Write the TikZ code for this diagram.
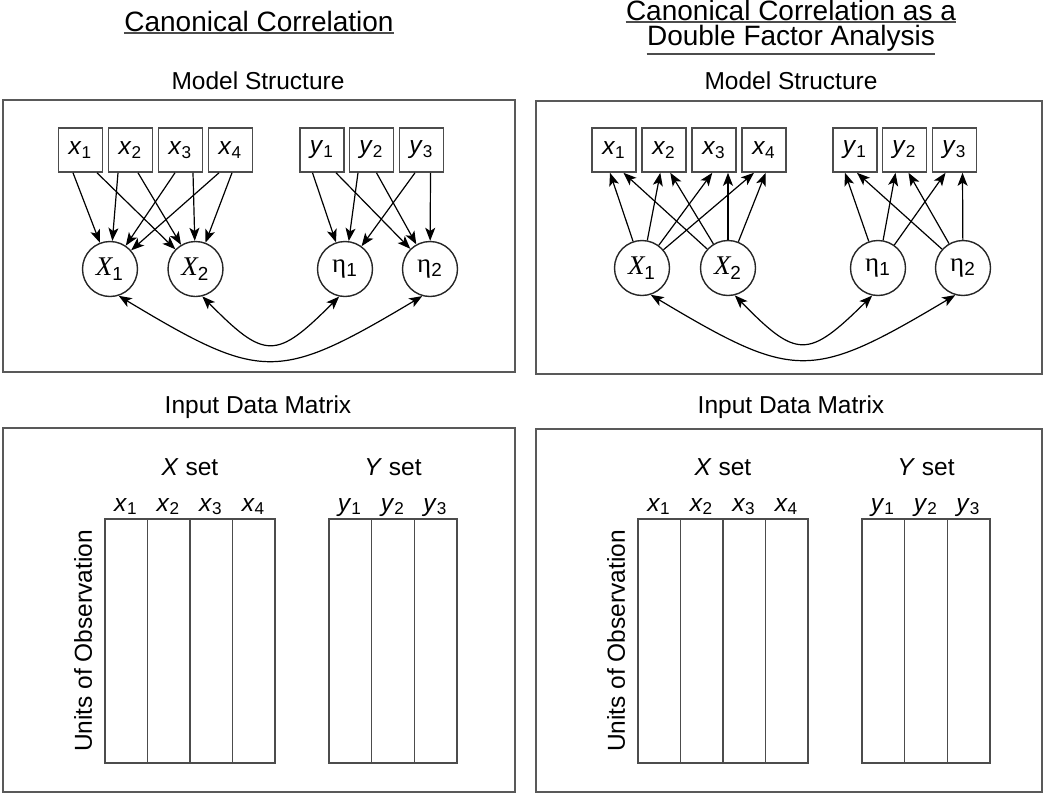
\documentclass[tikz,border=0pt]{standalone}
\usepackage{fontspec}
\setmainfont{Liberation Sans}
\newfontfamily\greekface{Liberation Serif}
\usetikzlibrary{arrows.meta,calc}

% labels of the variables
\newcommand{\obs}[2]{\textit{#1}\textsubscript{#2}}
\newcommand{\canvar}[2]{{\greekface\itshape #1}\textsubscript{#2}}
\newcommand{\cancrit}[1]{{\greekface η}\textsubscript{#1}}

\begin{document}
\begin{tikzpicture}[x=0.5pt, y=-0.5pt, font=\fontsize{12.25}{14.7}\selectfont,
	panel/.style={draw=black!65, line width=1pt},
	obsbox/.style={draw=black!70, line width=0.8pt, minimum size=22pt, inner sep=0pt},
	latent/.style={draw=black!85, line width=0.7pt, circle, minimum size=27.5pt, inner sep=0pt, font=\fontsize{13.5}{16}\selectfont},
	loading/.style={-{Stealth[length=6.5pt, width=5pt, inset=1.6pt]}, line width=0.6pt},
	corr/.style={{Stealth[length=6.5pt, width=5pt, inset=1.6pt]}-{Stealth[length=6.5pt, width=5pt, inset=1.6pt]}, line width=0.6pt},
	heading/.style={font=\fontsize{14}{16}\selectfont, anchor=base, inner sep=0pt},
	underl/.style={draw=black!70, line width=0.7pt},
	caption/.style={anchor=base},
	matcell/.style={draw=black!70, line width=0.8pt}]
	\useasboundingbox (0,0) rectangle (1045,793);

	% The headings
	\node[heading] (titleL) at (259,31) {Canonical Correlation};
	\draw[underl] ([yshift=-1pt]titleL.base west) -- ([yshift=-1pt]titleL.base east);
	\node[heading] (titleRa) at (791,20) {Canonical Correlation as a};
	\draw[underl] ([yshift=-1pt]titleRa.base west) -- ([yshift=-1pt]titleRa.base east);
	\node[heading] (titleRb) at (791,45) {Double Factor Analysis};
	\draw[underl] ([yshift=-4.5pt]titleRb.base west) -- ([yshift=-4.5pt]titleRb.base east);

	% The frames
	\node[caption] (modelL) at (258,89) {Model Structure};
	\node[caption] (modelR) at (791,89) {Model Structure};
	\node[caption] (inputL) at (258,413) {Input Data Matrix};
	\node[caption] (inputR) at (791,413) {Input Data Matrix};
	\draw[panel] (3,100) rectangle (515,372);
	\draw[panel] (536,101) rectangle (1042,374);
	\draw[panel] (3,428) rectangle (515,792);
	\draw[panel] (536,429) rectangle (1042,792);

	% Canonical correlation: the variables point at the variates
	\foreach \i/\px in {1/80.5, 2/130.5, 3/180.5, 4/230.5}
		\node[obsbox] (Lx\i) at (\px,150) {\obs{x}{\i}};
	\foreach \j/\px in {1/322, 2/371.5, 3/421.5}
		\node[obsbox] (Ly\j) at (\px,150) {\obs{y}{\j}};
	\node[latent] (Lchi1) at (110,269) {\canvar{X}{1}};
	\node[latent] (Lchi2) at (195.5,269) {\canvar{X}{2}};
	\node[latent] (Leta1) at (345,269) {\cancrit{1}};
	\node[latent] (Leta2) at (430,269) {\cancrit{2}};
	\foreach \i/\a/\b in {1/-7.5/16.5, 2/-12.5/7.5, 3/-5.5/12.5, 4/-11.5/1.5} {
		\draw[loading] ($(Lx\i.south)+(\a,0)$) -- (Lchi1);
		\draw[loading] ($(Lx\i.south)+(\b,0)$) -- (Lchi2);
	}
	\foreach \j/\a/\b in {1/-9.5/14, 2/-13.5/5, 3/-6.5/9} {
		\draw[loading] ($(Ly\j.south)+(\a,0)$) -- (Leta1);
		\draw[loading] ($(Ly\j.south)+(\b,0)$) -- (Leta2);
	}
	\draw[corr] (Lchi1.-72) .. controls (262,382) and (278,382) .. (Leta2.-106);
	\draw[corr] (Lchi2.-76) .. controls (265,360) and (276,360) .. (Leta1.-102);

	% Double factor analysis: the factors point at the variables
	\foreach \i/\px in {1/614, 2/664, 3/714, 4/764}
		\node[obsbox] (Rx\i) at (\px,150) {\obs{x}{\i}};
	\foreach \j/\px in {1/855, 2/904.5, 3/954.5}
		\node[obsbox] (Ry\j) at (\px,150) {\obs{y}{\j}};
	\node[latent] (Rchi1) at (642,268) {\canvar{X}{1}};
	\node[latent] (Rchi2) at (728,268) {\canvar{X}{2}};
	\node[latent] (Reta1) at (878,268) {\cancrit{1}};
	\node[latent] (Reta2) at (963,268) {\cancrit{2}};
	\foreach \i/\a/\b in {1/-4/9.5, 2/-3.7/6.3, 3/-1.7/14, 4/-10/1.7} {
		\draw[loading] (Rchi1) -- ($(Rx\i.south)+(\a,0)$);
		\draw[loading] (Rchi2) -- ($(Rx\i.south)+(\b,0)$);
	}
	\foreach \j/\a/\b in {1/-10/2, 2/-9/4, 3/-9/8} {
		\draw[loading] (Reta1) -- ($(Ry\j.south)+(\a,0)$);
		\draw[loading] (Reta2) -- ($(Ry\j.south)+(\b,0)$);
	}
	\draw[corr] (Rchi1.-72) .. controls (795,381) and (811,381) .. (Reta2.-106);
	\draw[corr] (Rchi2.-76) .. controls (797,359) and (808,359) .. (Reta1.-102);

	% The data matrices, the same in both frames
	\foreach \p/\dx in {L/0, R/533} {
		\begin{scope}[shift={(\dx,0)}]
		\node[caption] (\p-xset) at (190,475) {\textit{X} set};
		\node[caption] (\p-yset) at (393,475) {\textit{Y} set};
		\foreach \i/\px in {1/126, 2/168.5, 3/211, 4/253.5}
			\node[caption] (\p-xcol\i) at (\px,511) {\obs{x}{\i}};
		\foreach \j/\px in {1/350, 2/393, 3/435.5}
			\node[caption] (\p-ycol\j) at (\px,511) {\obs{y}{\j}};
		\foreach \c in {0,...,3}
			\draw[matcell] (105+42.5*\c,519) rectangle ++(42.5,244);
		\foreach \c in {0,...,2}
			\draw[matcell] (329+42.67*\c,519) rectangle ++(42.67,244);
		\node[rotate=90] (\p-units) at (83,641) {Units of Observation};
		\end{scope}
	}
\end{tikzpicture}
\end{document}
